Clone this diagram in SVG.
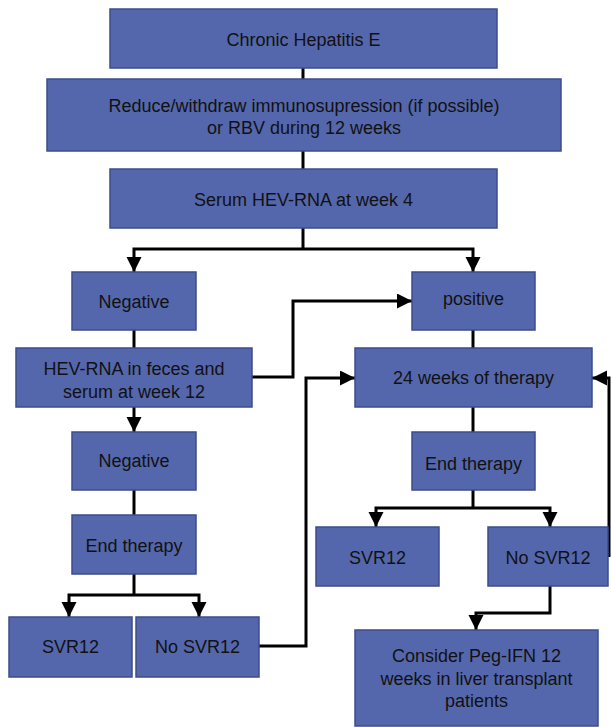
<svg xmlns="http://www.w3.org/2000/svg" width="611" height="727" viewBox="0 0 611 727">
<style>
.box{fill:#5567ac;stroke:#3c4d8c;stroke-width:1.5}
.t{font-family:"Liberation Sans",Arial,sans-serif;font-size:18px;fill:#111;text-anchor:middle}
.c{fill:none;stroke:#000;stroke-width:3}
.a{marker-end:url(#ah)}
</style>
<defs>
<marker id="ah" markerUnits="userSpaceOnUse" markerWidth="18" markerHeight="18" refX="15" refY="7.5" orient="auto">
<path d="M0,0 L15,7.5 L0,15 Z" fill="#000"/>
</marker>
</defs>
<rect width="611" height="727" fill="#fff"/>
<g id="connectors">
<path class="c" d="M303,68 V79"/>
<path class="c" d="M303,151 V169"/>
<path class="c" d="M303,228 V249"/>
<path class="c a" d="M303,249 H134 V272"/>
<path class="c a" d="M303,249 H473 V272"/>
<path class="c" d="M134,330 V348"/>
<path class="c" d="M473,330 V348"/>
<path class="c a" d="M252,377 H293 V301 H412"/>
<path class="c a" d="M134,407 V432"/>
<path class="c" d="M134,490 V515"/>
<path class="c" d="M473,407 V432"/>
<path class="c" d="M134,574 V595"/>
<path class="c a" d="M134,595 H69 V617"/>
<path class="c a" d="M134,595 H199 V617"/>
<path class="c a" d="M259,646 H306 V378 H355"/>
<path class="c" d="M473,490 V508"/>
<path class="c a" d="M473,508 H376 V527"/>
<path class="c a" d="M473,508 H550 V527"/>
<path class="c a" d="M609,557 V378 H592"/>
<path class="c a" d="M550,586 V613 H476 V630"/>
</g>
<g id="n1"><rect class="box" x="110" y="9" width="387" height="59"/><text class="t" x="303.5" y="45.5">Chronic Hepatitis E</text></g>
<g id="n2"><rect class="box" x="47" y="79" width="514" height="72"/><text class="t" x="304" y="112">Reduce/withdraw immunosupression (if possible)</text><text class="t" x="304" y="134">or RBV during 12 weeks</text></g>
<g id="n3"><rect class="box" x="110" y="169" width="387" height="59"/><text class="t" x="303.5" y="205.5">Serum HEV-RNA at week 4</text></g>
<g id="n4"><rect class="box" x="72" y="272" width="124" height="58"/><text class="t" x="134" y="307.5">Negative</text></g>
<g id="n5"><rect class="box" x="412" y="272" width="123" height="58"/><text class="t" x="473.5" y="305">positive</text></g>
<g id="n6"><rect class="box" x="16" y="348" width="236" height="59"/><text class="t" x="134" y="374.5">HEV-RNA in feces and</text><text class="t" x="134" y="397.5">serum at week 12</text></g>
<g id="n7"><rect class="box" x="355" y="348" width="237" height="59"/><text class="t" x="473.5" y="384">24 weeks of therapy</text></g>
<g id="n8"><rect class="box" x="72" y="432" width="124" height="58"/><text class="t" x="134" y="466.5">Negative</text></g>
<g id="n9"><rect class="box" x="412" y="432" width="123" height="58"/><text class="t" x="473.5" y="469.5">End therapy</text></g>
<g id="n10"><rect class="box" x="72" y="515" width="124" height="59"/><text class="t" x="134" y="551.5">End therapy</text></g>
<g id="n11"><rect class="box" x="316" y="527" width="123" height="59"/><text class="t" x="377.5" y="563.5">SVR12</text></g>
<g id="n12"><rect class="box" x="488" y="527" width="120" height="59"/><text class="t" x="548" y="563.5">No SVR12</text></g>
<g id="n13"><rect class="box" x="9" y="617" width="123" height="60"/><text class="t" x="70.5" y="652.5">SVR12</text></g>
<g id="n14"><rect class="box" x="136" y="617" width="123" height="60"/><text class="t" x="197.5" y="652.5">No SVR12</text></g>
<g id="n15"><rect class="box" x="355" y="630" width="243" height="96"/><text class="t" x="476.5" y="661.5">Consider Peg-IFN 12</text><text class="t" x="476.5" y="684.5">weeks in liver transplant</text><text class="t" x="476.5" y="706.5">patients</text></g>
</svg>
